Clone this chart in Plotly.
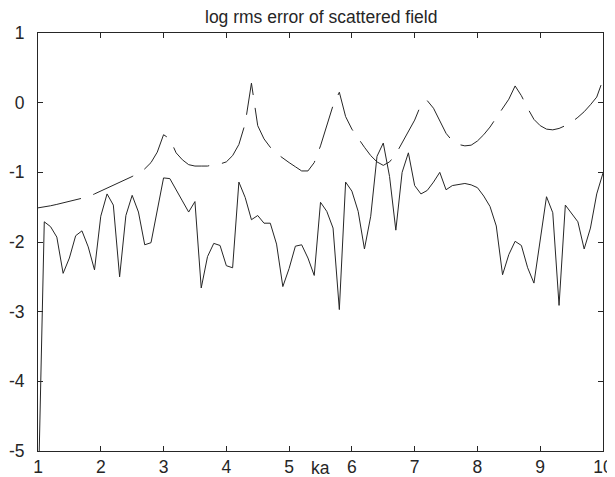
import plotly.graph_objects as go

ka = [round(1 + 0.1 * i, 1) for i in range(91)]

solid_err = [
    -5.8, -1.71, -1.78, -1.93, -2.45, -2.23, -1.91, -1.84, -2.07, -2.40,
    -1.63, -1.31, -1.47, -2.50, -1.62, -1.33, -1.57, -2.04, -2.01, -1.53,
    -1.08, -1.09, -1.24, -1.41, -1.57, -1.42, -2.66, -2.21, -2.02, -2.05,
    -2.34, -2.37, -1.14, -1.36, -1.68, -1.62, -1.73, -1.73, -2.03, -2.64,
    -2.38, -2.06, -2.04, -2.23, -2.48, -1.43, -1.56, -1.80, -2.97, -1.14,
    -1.27, -1.56, -2.10, -1.63, -0.77, -0.58, -1.06, -1.83, -1.00, -0.72,
    -1.19, -1.31, -1.26, -1.14, -1.00, -1.25, -1.19, -1.17, -1.16, -1.18,
    -1.22, -1.34, -1.49, -1.77, -2.47, -2.18, -1.99, -2.05, -2.37, -2.59,
    -1.97, -1.35, -1.58, -2.91, -1.47, -1.59, -1.71, -2.10, -1.80, -1.31,
    -1.01,
]

dashed_err = [
    -1.51, -1.50, -1.48, -1.46, -1.44, -1.42, -1.40, -1.38, -1.35, -1.31,
    -1.27, -1.23, -1.19, -1.15, -1.11, -1.06, -1.01, -0.95, -0.86, -0.71,
    -0.46, -0.52, -0.72, -0.82, -0.89, -0.91, -0.91, -0.91, -0.89, -0.88,
    -0.85, -0.76, -0.60, -0.30, 0.28, -0.33, -0.52, -0.64, -0.73, -0.80,
    -0.86, -0.92, -0.98, -0.98, -0.86, -0.62, -0.33, -0.04, 0.15, -0.20,
    -0.38, -0.52, -0.64, -0.76, -0.85, -0.90, -0.85, -0.74, -0.57, -0.40,
    -0.25, -0.03, 0.03, -0.08, -0.26, -0.44, -0.55, -0.60, -0.62, -0.61,
    -0.55, -0.46, -0.35, -0.22, -0.08, 0.05, 0.24, 0.10, -0.08, -0.24,
    -0.33, -0.38, -0.39, -0.37, -0.33, -0.28, -0.21, -0.13, -0.03, 0.08,
    0.33,
]

x_ticks = [1, 2, 3, 4, 5, 6, 7, 8, 9, 10]
y_ticks = [-5, -4, -3, -2, -1, 0, 1]

FONT = "Liberation Sans, Arial"
INK = "#262626"

fig = go.Figure()
fig.add_trace(go.Scatter(x=ka, y=solid_err, mode="lines",
                         line=dict(color=INK, width=1), showlegend=False))
fig.add_trace(go.Scatter(x=ka, y=dashed_err, mode="lines",
                         line=dict(color=INK, width=1, dash="44px,13px"),
                         showlegend=False))

axis_common = dict(showgrid=False, zeroline=False, showline=True, linecolor=INK,
                   linewidth=1, mirror="ticks", ticks="inside", ticklen=5,
                   tickcolor=INK, tickwidth=1, automargin=False,
                   tickfont=dict(family=FONT, size=17.5, color=INK))

fig.update_xaxes(range=[1, 10], tickvals=x_ticks, ticktext=[str(t) for t in x_ticks],
                 ticklabelstandoff=0, **axis_common)
fig.update_yaxes(range=[-5, 1], tickvals=y_ticks, ticktext=[str(t) for t in y_ticks],
                 ticklabelstandoff=9, **axis_common)

fig.update_layout(
    width=615, height=477,
    margin=dict(l=30, r=20, t=25, b=34),
    paper_bgcolor="white", plot_bgcolor="white",
    annotations=[
        dict(text="log rms error of scattered field", x=0.5, y=1, xref="paper", yref="paper",
             xanchor="center", yanchor="bottom", yshift=4, showarrow=False,
             font=dict(family=FONT, size=17.5, color=INK)),
        dict(text="ka", x=0.5, y=0, xref="paper", yref="paper",
             xanchor="center", yanchor="top", yshift=-5, showarrow=False,
             font=dict(family=FONT, size=17.5, color=INK)),
    ],
)

fig.write_html("out.html")
